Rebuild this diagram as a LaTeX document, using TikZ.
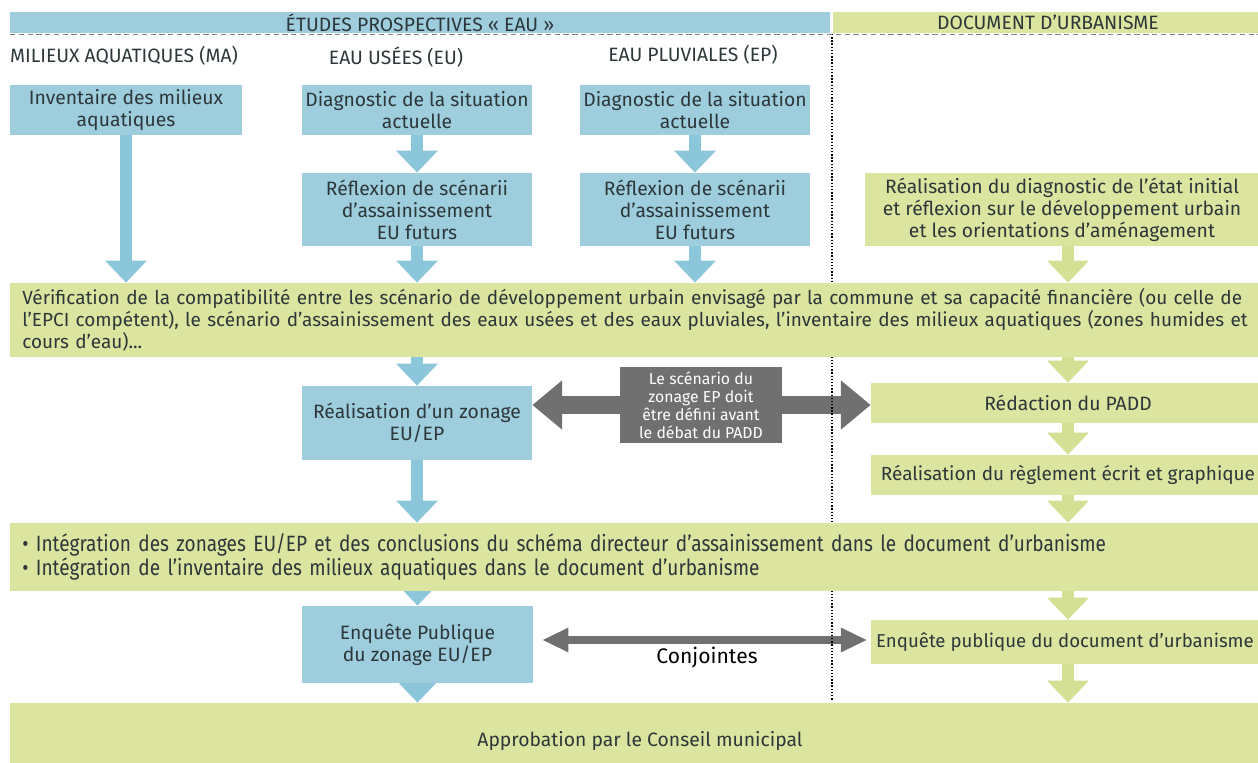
\documentclass[tikz,border=0pt]{standalone}
\usepackage{fontspec}
\setmainfont{Fira Sans}
\newfontfamily\condfont[FakeStretch=0.86]{Fira Sans}
\usetikzlibrary{arrows.meta,positioning,backgrounds}

\definecolor{eaublue}{RGB}{158,206,222}
\definecolor{urbagreen}{RGB}{220,229,160}
\definecolor{flowblue}{RGB}{140,198,218}
\definecolor{flowgreen}{RGB}{212,225,148}
\definecolor{notegray}{RGB}{112,112,112}
\definecolor{inkgray}{RGB}{45,55,58}

\tikzset{
  boxtext/.style={font=\fontsize{11}{12.5}\selectfont, text=inkgray},
  eaubox/.style={boxtext, fill=eaublue, align=center, inner sep=1pt,
    minimum width=4.6cm},
  urbabox/.style={boxtext, fill=urbagreen, align=center, inner sep=1pt,
    minimum width=7.88cm},
  band/.style={boxtext, fill=urbagreen, align=left, inner xsep=0.24cm,
    inner ysep=1pt, text width=25.6cm, anchor=west},
  hdr/.style={font=\fontsize{11}{12}\selectfont, text=inkgray,
    inner sep=0pt, minimum height=0.42cm},
  colhead/.style={font=\fontsize{11}{12}\selectfont, text=inkgray},
  blueflow/.style={draw=flowblue, line width=6.8pt,
    -{Triangle[width=23pt,length=12.5pt]}},
  greenflow/.style={draw=flowgreen, line width=6.8pt,
    -{Triangle[width=23pt,length=12.5pt]}},
  bigflow/.style={draw=notegray, line width=10pt,
    {Triangle[width=27pt,length=17pt]}-{Triangle[width=27pt,length=17pt]}},
  thinflow/.style={draw=notegray, line width=4pt,
    {Triangle[width=13pt,length=15pt]}-{Triangle[width=13pt,length=15pt]}}
}

\begin{document}
\begin{tikzpicture}[x=0.02cm, y=-0.02cm]
  \useasboundingbox (0,0) rectangle (1258,763);

  % headers
  \node[hdr, fill=eaublue, minimum width=16.4cm] (hdreau) at (420,22.5)
    {ÉTUDES PROSPECTIVES « EAU »};
  \node[hdr, fill=urbagreen, minimum width=8.6cm] (hdrurba) at (1048,22.5)
    {DOCUMENT D’URBANISME};
  \node[colhead] (headma) at (124,56) {MILIEUX AQUATIQUES (MA)};
  \node[colhead] (headeu) at (396,57) {EAU USÉES (EU)};
  \node[colhead] (headep) at (693,55) {EAU PLUVIALES (EP)};

  % first steps
  \node[eaubox, minimum width=4.64cm, minimum height=1cm] (inv) at (126,110)
    {Inventaire des milieux\\aquatiques};
  \node[eaubox, minimum height=1cm] (diageu) at (417,110)
    {Diagnostic de la situation\\actuelle};
  \node[eaubox, minimum height=1cm] (diagep) at (695,110)
    {Diagnostic de la situation\\actuelle};
  \node[eaubox, minimum height=1.46cm] (refleu) at (417,209.5)
    {Réflexion de scénarii\\d’assainissement\\EU futurs};
  \node[eaubox, minimum height=1.46cm] (reflep) at (695,209.5)
    {Réflexion de scénarii\\d’assainissement\\EU futurs};
  \node[urbabox, minimum height=1.46cm] (diagurba) at (1062,209.5)
    {Réalisation du diagnostic de l’état initial\\et réflexion sur le développement urbain\\et les orientations d’aménagement};

  \node[band, minimum height=1.48cm, font=\fontsize{10.8}{12.5}\selectfont] (verif) at (10,320)
    {Vérification de la compatibilité entre les scénario de développement urbain envisagé par la commune et sa capacité financière (ou celle de\\
     l’EPCI compétent), le scénario d’assainissement des eaux usées et des eaux pluviales, l’inventaire des milieux aquatiques (zones humides et\\
     cours d’eau)...};

  % zonage and PLU
  \node[eaubox, minimum height=1.48cm] (zonage) at (417,423)
    {Réalisation d’un zonage\\EU/EP};
  \node[fill=notegray, text=white, align=center, inner sep=1pt,
    minimum width=3.26cm, minimum height=1.52cm,
    font=\fontsize{9}{10.2}\selectfont] (note) at (701,405)
    {Le scénario du\\zonage EP doit\\être défini avant\\le débat du PADD};
  \node[urbabox, minimum height=0.8cm] (padd) at (1068,403) {Rédaction du PADD};
  \node[urbabox, minimum height=0.8cm, font=\fontsize{10.8}{12.5}\selectfont] (regl) at (1068,475)
    {Réalisation du règlement écrit et graphique};

  \node[band, minimum height=1.36cm, font=\condfont\fontsize{12.6}{12}\selectfont]
    (integ) at (10,557)
    {• Intégration des zonages EU/EP et des conclusions du schéma directeur d’assainissement dans le document d’urbanisme\\
     • Intégration de l’inventaire des milieux aquatiques dans le document d’urbanisme};

  % enquetes
  \node[eaubox, minimum width=4.62cm, minimum height=1.54cm] (enqeu) at (417.5,644.5)
    {Enquête Publique\\du zonage EU/EP};
  \node[urbabox, minimum width=7.76cm, minimum height=0.88cm,
    font=\fontsize{10.6}{12.5}\selectfont] (enqurba) at (1065,642)
    {Enquête publique du document d’urbanisme};
  \node[font=\fontsize{12}{14}\selectfont] (conj) at (707,658) {Conjointes};

  \node[boxtext, fill=urbagreen, minimum width=25.2cm, minimum height=1.54cm]
    (approb) at (640,741.5) {Approbation par le Conseil municipal};

  \begin{scope}[on background layer]
    \draw[blueflow] (inv.south) -- (inv.south |- verif.north);
    \draw[blueflow] (diageu) -- (refleu);
    \draw[blueflow] (diagep) -- (reflep);
    \draw[blueflow] (refleu) -- (refleu |- verif.north);
    \draw[blueflow] (reflep) -- (reflep |- verif.north);
    \draw[greenflow] (padd |- diagurba) -- (padd |- verif.north);
    \draw[blueflow] (zonage |- verif.south) -- (zonage.north);
    \draw[greenflow] (padd |- verif.south) -- (padd.north);
    \draw[blueflow] (zonage) -- (zonage |- integ.north);
    \draw[greenflow] (padd) -- (regl.north);
    \draw[greenflow] (regl) -- (regl |- integ.north);
    \draw[blueflow] (enqeu |- integ.south) -- (enqeu.north);
    \draw[greenflow] (padd |- integ.south) -- (padd |- enqurba.north);
    \draw[blueflow] (enqeu) -- (enqeu |- approb.north);
    \draw[greenflow] (padd |- enqurba) -- (padd |- approb.north);
    \draw[bigflow] (zonage.east |- note) -- (padd.west |- note);
    \draw[thinflow, shorten <=5pt, shorten >=2pt] (enqeu.east |- 0,640) -- (enqurba.west |- 0,640);
    % separations
    \draw[densely dotted, line width=0.8pt] (832,34) -- (832,700);
    \draw[densely dashed, line width=0.5pt, draw=gray] (10,34) -- (1258,34);
  \end{scope}
\end{tikzpicture}
\end{document}
